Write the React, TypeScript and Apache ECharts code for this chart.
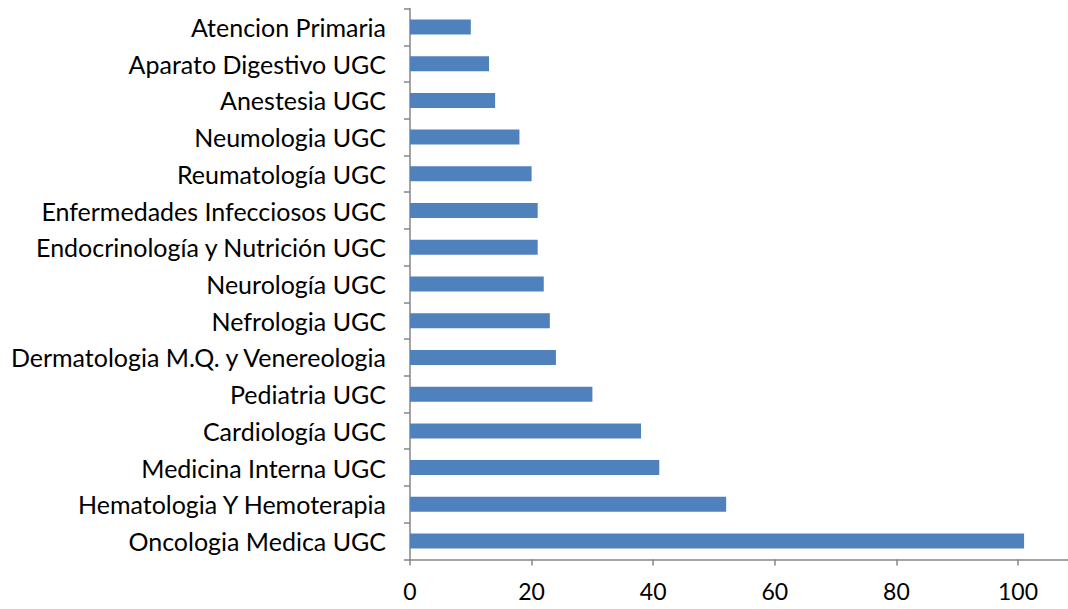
import React, { useEffect, useRef } from "react";
import * as echarts from "echarts";

const categories = [
  "Oncologia Medica UGC",
  "Hematologia Y Hemoterapia",
  "Medicina Interna UGC",
  "Cardiología UGC",
  "Pediatria UGC",
  "Dermatologia M.Q. y Venereologia",
  "Nefrologia UGC",
  "Neurología UGC",
  "Endocrinología y Nutrición UGC",
  "Enfermedades Infecciosos UGC",
  "Reumatología UGC",
  "Neumologia UGC",
  "Anestesia UGC",
  "Aparato Digestivo UGC",
  "Atencion Primaria",
];
const values = [101, 52, 41, 38, 30, 24, 23, 22, 21, 21, 20, 18, 14, 13, 10];
const xMin = 0;
const xMax = 120;
const xInterval = 20;

export default function App() {
  const ref = useRef<HTMLDivElement>(null);
  useEffect(() => {
    const chart = echarts.init(ref.current!, undefined, { renderer: "svg" });
    chart.setOption({
      animation: false,
      grid: { left: 410, top: 8.6, right: 60.4, bottom: 49.6, containLabel: false },
      xAxis: {
        type: "value",
        min: xMin,
        max: xMax,
        interval: xInterval,
        axisLine: { show: true, lineStyle: { color: "#868686", width: 1.5 } },
        axisTick: { show: true, length: 6, lineStyle: { color: "#868686", width: 1.5 } },
        splitLine: { show: false },
        axisLabel: { color: "#000", fontSize: 23, fontFamily: "Lato", margin: 20, showMaxLabel: false },
      },
      yAxis: {
        type: "category",
        data: categories,
        axisLine: { show: true, lineStyle: { color: "#868686", width: 1.5 } },
        axisTick: { show: true, length: 6, lineStyle: { color: "#868686", width: 1.5 } },
        axisLabel: { color: "#000", fontSize: 25, fontFamily: "Lato", margin: 24 },
      },
      series: [
        {
          type: "bar",
          data: values,
          barWidth: 15,
          itemStyle: { color: "#4F81BD" },
        },
      ],
    });
    return () => chart.dispose();
  }, []);
  return (
    <div style={{ position: "absolute", left: 0, top: 0, width: 1068, height: 609, overflow: "hidden", background: "#fff" }}>
      <div ref={ref} style={{ width: 1200, height: 609 }} />
    </div>
  );
}
